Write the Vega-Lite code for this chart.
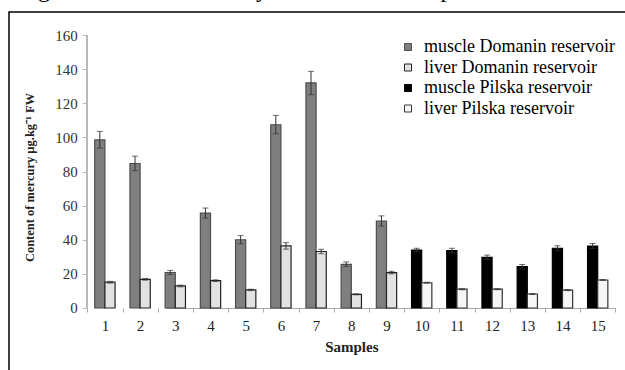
{
  "$schema": "https://vega.github.io/schema/vega-lite/v6.json",
  "autosize": {"type": "none"},
  "padding": {"left": 9, "top": 12, "right": 0, "bottom": 0},
  "width": 620,
  "height": 362,
  "background": "white",
  "title": {
    "text": "Fig. 3 Content of mercury in individual samples",
    "anchor": "start",
    "dx": 9,
    "dy": 12,
    "offset": 3,
    "baseline": "alphabetic",
    "font": "Liberation Serif",
    "fontSize": 24,
    "fontWeight": "normal",
    "color": "#000"
  },
  "config": {
    "view": {"stroke": "#000", "strokeWidth": 1.5},
    "axis": {"labelFont": "Liberation Serif", "titleFont": "Liberation Serif", "grid": false}
  },
  "data": {
    "values": [
      {"sample": "1", "tissue": "muscle", "series": "muscle Domanin reservoir", "value": 98.5, "lo": 93.7, "hi": 103.5},
      {"sample": "2", "tissue": "muscle", "series": "muscle Domanin reservoir", "value": 84.7, "lo": 80.5, "hi": 89},
      {"sample": "3", "tissue": "muscle", "series": "muscle Domanin reservoir", "value": 20.8, "lo": 19.6, "hi": 22},
      {"sample": "4", "tissue": "muscle", "series": "muscle Domanin reservoir", "value": 55.6, "lo": 52.7, "hi": 58.6},
      {"sample": "5", "tissue": "muscle", "series": "muscle Domanin reservoir", "value": 40, "lo": 37.6, "hi": 42.4},
      {"sample": "6", "tissue": "muscle", "series": "muscle Domanin reservoir", "value": 107.4, "lo": 102.1, "hi": 112.9},
      {"sample": "7", "tissue": "muscle", "series": "muscle Domanin reservoir", "value": 131.9, "lo": 125, "hi": 138.7},
      {"sample": "8", "tissue": "muscle", "series": "muscle Domanin reservoir", "value": 25.6, "lo": 24.3, "hi": 27},
      {"sample": "9", "tissue": "muscle", "series": "muscle Domanin reservoir", "value": 51, "lo": 48, "hi": 54},
      {"sample": "1", "tissue": "liver", "series": "liver Domanin reservoir", "value": 15.1, "lo": 14.6, "hi": 15.6},
      {"sample": "2", "tissue": "liver", "series": "liver Domanin reservoir", "value": 16.8, "lo": 16.3, "hi": 17.3},
      {"sample": "3", "tissue": "liver", "series": "liver Domanin reservoir", "value": 12.9, "lo": 12.4, "hi": 13.4},
      {"sample": "4", "tissue": "liver", "series": "liver Domanin reservoir", "value": 16, "lo": 15.5, "hi": 16.5},
      {"sample": "5", "tissue": "liver", "series": "liver Domanin reservoir", "value": 10.6, "lo": 10.2, "hi": 11},
      {"sample": "6", "tissue": "liver", "series": "liver Domanin reservoir", "value": 36.4, "lo": 34.5, "hi": 38.3},
      {"sample": "7", "tissue": "liver", "series": "liver Domanin reservoir", "value": 33.1, "lo": 31.8, "hi": 34.4},
      {"sample": "8", "tissue": "liver", "series": "liver Domanin reservoir", "value": 8, "lo": 7.7, "hi": 8.3},
      {"sample": "9", "tissue": "liver", "series": "liver Domanin reservoir", "value": 20.7, "lo": 20, "hi": 21.5},
      {"sample": "10", "tissue": "muscle", "series": "muscle Pilska reservoir", "value": 34, "lo": 33, "hi": 35},
      {"sample": "11", "tissue": "muscle", "series": "muscle Pilska reservoir", "value": 33.6, "lo": 32.4, "hi": 35},
      {"sample": "12", "tissue": "muscle", "series": "muscle Pilska reservoir", "value": 29.7, "lo": 28.5, "hi": 31},
      {"sample": "13", "tissue": "muscle", "series": "muscle Pilska reservoir", "value": 24.2, "lo": 23, "hi": 25.5},
      {"sample": "14", "tissue": "muscle", "series": "muscle Pilska reservoir", "value": 35, "lo": 33.6, "hi": 36.5},
      {"sample": "15", "tissue": "muscle", "series": "muscle Pilska reservoir", "value": 36.3, "lo": 34.9, "hi": 37.8},
      {"sample": "10", "tissue": "liver", "series": "liver Pilska reservoir", "value": 14.8, "lo": 14.5, "hi": 15.1},
      {"sample": "11", "tissue": "liver", "series": "liver Pilska reservoir", "value": 11, "lo": 10.7, "hi": 11.3},
      {"sample": "12", "tissue": "liver", "series": "liver Pilska reservoir", "value": 11, "lo": 10.7, "hi": 11.3},
      {"sample": "13", "tissue": "liver", "series": "liver Pilska reservoir", "value": 8.2, "lo": 7.9, "hi": 8.5},
      {"sample": "14", "tissue": "liver", "series": "liver Pilska reservoir", "value": 10.5, "lo": 10.2, "hi": 10.8},
      {"sample": "15", "tissue": "liver", "series": "liver Pilska reservoir", "value": 16.4, "lo": 16.1, "hi": 16.7}
    ]
  },
  "encoding": {
    "x": {
      "field": "sample",
      "type": "ordinal",
      "sort": ["1","2","3","4","5","6","7","8","9","10","11","12","13","14","15"],
      "scale": {"range": [78.3, 606.3], "paddingInner": 0, "paddingOuter": 0},
      "axis": {
        "title": "Samples",
        "titleFont": "Liberation Serif",
        "titleFontSize": 15,
        "titleFontWeight": "bold",
        "titleColor": "#222",
        "titlePadding": 6,
        "labelAngle": 0,
        "labelFontSize": 15,
        "labelColor": "#222",
        "labelPadding": 6,
        "tickBand": "extent",
        "tickSize": 4,
        "tickColor": "#aaa",
        "domainColor": "#aaa",
        "domainDash": [0, 78.3, 1000, 0],
        "offset": -66
      }
    }
  },
  "layer": [
    {
      "mark": {"type": "rule", "color": "#bbb", "strokeWidth": 1},
      "encoding": {
        "x": {"datum": "1", "type": "ordinal", "bandPosition": 0},
        "y": {"datum": 0, "type": "quantitative"},
        "y2": {"datum": 160}
      }
    },
    {
      "mark": {"type": "bar", "strokeWidth": 1.2},
      "encoding": {
        "xOffset": {
          "field": "tissue",
          "type": "nominal",
          "sort": ["muscle", "liver"],
          "scale": {"domain": ["muscle", "liver"], "paddingInner": 0, "paddingOuter": 0.734}
        },
        "y": {
          "field": "value",
          "type": "quantitative",
          "scale": {"domain": [-38.7, 173.5], "nice": false, "zero": false},
          "axis": {
            "values": [0, 20, 40, 60, 80, 100, 120, 140, 160],
            "title": "Content of mercury µg.kg⁻¹ FW",
            "titleFont": "Liberation Serif",
            "titleFontSize": 12.5,
            "titleFontWeight": "bold",
            "titleColor": "#222",
            "titleX": -51,
            "titleY": 165,
            "labelFontSize": 15,
            "labelColor": "#333",
            "labelPadding": 5,
            "tickSize": 5,
            "tickColor": "#bbb",
            "domain": false,
            "offset": -78.3
          }
        },
        "y2": {"datum": 0},
        "color": {
          "field": "series",
          "type": "nominal",
          "scale": {
            "domain": ["muscle Domanin reservoir", "liver Domanin reservoir", "muscle Pilska reservoir", "liver Pilska reservoir"],
            "range": ["#7f7f7f", "#e2e2e2", "#000000", "#f6f6f6"]
          },
          "legend": {
            "title": null,
            "orient": "none",
            "legendX": 390,
            "legendY": 26,
            "padding": 0,
            "symbolType": "square",
            "symbolSize": 49,
            "symbolStrokeWidth": 1,
            "labelFont": "Liberation Serif",
            "labelFontSize": 18,
            "labelColor": "#000",
            "labelOffset": 7,
            "labelLimit": 400,
            "rowPadding": 2.5
          }
        },
        "stroke": {
          "field": "series",
          "type": "nominal",
          "scale": {
            "domain": ["muscle Domanin reservoir", "liver Domanin reservoir", "muscle Pilska reservoir", "liver Pilska reservoir"],
            "range": ["#4d4d4d", "#222222", "#000000", "#333333"]
          },
          "legend": null
        }
      }
    },
    {
      "mark": {"type": "rule", "color": "#333", "strokeWidth": 1},
      "encoding": {
        "xOffset": {"field": "tissue", "type": "nominal", "sort": ["muscle", "liver"]},
        "y": {"field": "lo", "type": "quantitative"},
        "y2": {"field": "hi"}
      }
    },
    {
      "mark": {"type": "tick", "color": "#333", "size": 6, "thickness": 1},
      "encoding": {
        "xOffset": {"field": "tissue", "type": "nominal", "sort": ["muscle", "liver"]},
        "y": {"field": "hi", "type": "quantitative"}
      }
    },
    {
      "mark": {"type": "tick", "color": "#333", "size": 6, "thickness": 1},
      "encoding": {
        "xOffset": {"field": "tissue", "type": "nominal", "sort": ["muscle", "liver"]},
        "y": {"field": "lo", "type": "quantitative"}
      }
    }
  ]
}
